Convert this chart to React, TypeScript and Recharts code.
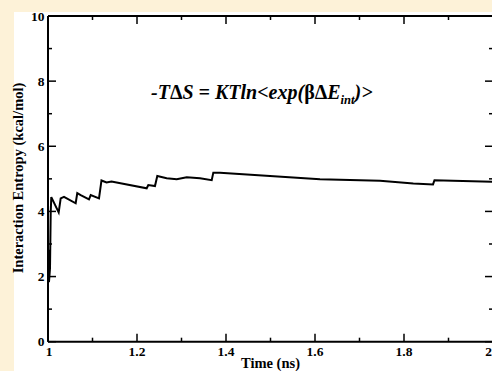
import React from 'react';
import { LineChart, Line, XAxis, YAxis, Customized } from 'recharts';

const timeNs = [1.0007, 1.0022, 1.0045, 1.0061, 1.0074, 1.024, 1.0285, 1.036, 1.0622, 1.0658, 1.0735, 1.0921, 1.096, 1.1146, 1.1202, 1.1315, 1.1427, 1.2218, 1.2254, 1.2404, 1.2456, 1.2667, 1.2892, 1.3117, 1.3416, 1.3679, 1.3715, 1.3865, 1.6112, 1.7461, 1.8209, 1.8652, 1.8685, 1.9101, 2.0];
const entropy = [2.82, 1.83, 2.26, 3.98, 4.44, 3.97, 4.40, 4.45, 4.25, 4.56, 4.50, 4.37, 4.50, 4.40, 4.95, 4.89, 4.92, 4.71, 4.81, 4.78, 5.09, 5.02, 4.99, 5.05, 5.02, 4.96, 5.19, 5.19, 4.99, 4.94, 4.86, 4.83, 4.96, 4.94, 4.91];

const xMajorTicks = [1, 1.2, 1.4, 1.6, 1.8, 2];
const xMinorTicks = [1.1, 1.3, 1.5, 1.7, 1.9];
const xTickLabels = ['1', '1.2', '1.4', '1.6', '1.8', '2'];
const yMajorTicks = [0, 2, 4, 6, 8, 10];
const yMinorTicks = [1, 3, 5, 7, 9];
const yTickLabels = ['0', '2', '4', '6', '8', '10'];

const xLabel = 'Time (ns)';
const yLabel = 'Interaction Entropy (kcal/mol)';

const data = timeNs.map((t, i) => ({ t, v: entropy[i] }));
const allX = [...xMajorTicks, ...xMinorTicks].sort((a, b) => a - b);
const allY = [...yMajorTicks, ...yMinorTicks].sort((a, b) => a - b);

const FONT = "'Liberation Serif', 'Times New Roman', Times, serif";
const TICK_FONT = 13.5;
const MAJOR = 8;
const MINOR = 4;
const PLOT_TOP = 16;
const PLOT_BOTTOM = 341.7;
const PLOT_LEFT = 48;
const PLOT_RIGHT = 493;

const majorIndex = (arr: number[], v: number) => arr.findIndex((m) => Math.abs(m - v) < 1e-6);

const tickTextStyle: React.CSSProperties = { fontFamily: FONT, fontWeight: 'bold', fontSize: TICK_FONT, fill: '#000' };

const BottomTick = (props: any) => {
  const { x, payload } = props;
  const y = PLOT_BOTTOM;
  const idx = majorIndex(xMajorTicks, payload.value);
  const major = idx >= 0;
  const last = idx === xMajorTicks.length - 1;
  return (
    <g>
      <line x1={x} y1={y} x2={x} y2={y - (major ? MAJOR : MINOR)} stroke="#000" strokeWidth={1.5} />
      {major && (
        <text x={last ? 492 : x + (idx === 0 ? 1 : 0)} y={y + 14.5} textAnchor={last ? 'end' : 'middle'} style={tickTextStyle}>
          {xTickLabels[idx]}
        </text>
      )}
    </g>
  );
};

const TopTick = (props: any) => {
  const { x, payload } = props;
  const y = PLOT_TOP;
  const major = majorIndex(xMajorTicks, payload.value) >= 0;
  return <line x1={x} y1={y} x2={x} y2={y + (major ? MAJOR : MINOR)} stroke="#000" strokeWidth={1.5} />;
};

const LeftTick = (props: any) => {
  const { y, payload } = props;
  const x = PLOT_LEFT;
  const idx = majorIndex(yMajorTicks, payload.value);
  const major = idx >= 0;
  return (
    <g>
      <line x1={x} y1={y} x2={x + (major ? MAJOR : MINOR)} y2={y} stroke="#000" strokeWidth={1.5} />
      {major && (
        <text x={x - 3.5} y={y + 4.5} textAnchor="end" style={tickTextStyle}>
          {yTickLabels[idx]}
        </text>
      )}
    </g>
  );
};

const RightTick = (props: any) => {
  const { y, payload } = props;
  const x = PLOT_RIGHT;
  const major = majorIndex(yMajorTicks, payload.value) >= 0;
  return <line x1={x} y1={y} x2={x - (major ? MAJOR : MINOR)} y2={y} stroke="#000" strokeWidth={1.5} />;
};

const Labels = () => (
  <g>
    <text x={270.5} y={367.5} textAnchor="middle" fontFamily={FONT} fontWeight="bold" fontSize={14.5} fill="#000">
      {xLabel}
    </text>
    <text transform="translate(23,178) rotate(-90)" textAnchor="middle" fontFamily={FONT} fontWeight="bold" fontSize={14.5} fill="#000">
      {yLabel}
    </text>
    <text x={151} y={99} fontFamily={FONT} fontWeight="bold" fontStyle="italic" fontSize={20} fill="#000">
      <tspan>-T</tspan>
      <tspan fontStyle="normal">Δ</tspan>
      <tspan>S = KTln&lt;exp(</tspan>
      <tspan fontStyle="normal">βΔ</tspan>
      <tspan>E</tspan>
      <tspan fontSize={12.5} dy={5}>int</tspan>
      <tspan dy={-5}>)&gt;</tspan>
    </text>
  </g>
);

const axisLine = { stroke: '#000', strokeWidth: 2 };

export default function App() {
  return (
    <div style={{ position: 'absolute', left: 0, top: 0, width: 492, height: 371, background: '#FDF2D8', overflow: 'hidden' }}>
      <div style={{ position: 'absolute', left: 14, top: 12, width: 478, height: 359, background: '#FFFFFF' }} />
      <div style={{ position: 'absolute', left: 0, top: 0 }}>
        <LineChart width={492} height={371} data={data} margin={{ top: 0, right: -2, bottom: 0, left: 0 }}>
          <XAxis xAxisId="b" dataKey="t" type="number" domain={[1, 2]} ticks={allX} interval={0} height={371 - PLOT_BOTTOM} tickSize={0} tickMargin={0} tickLine={false} axisLine={axisLine} tick={BottomTick} allowDataOverflow />
          <XAxis xAxisId="t" orientation="top" dataKey="t" type="number" domain={[1, 2]} ticks={allX} interval={0} height={PLOT_TOP} tickSize={0} tickMargin={0} tickLine={false} axisLine={axisLine} tick={TopTick} allowDataOverflow />
          <YAxis yAxisId="l" type="number" domain={[0, 10]} ticks={allY} interval={0} width={PLOT_LEFT} tickSize={0} tickMargin={0} tickLine={false} axisLine={axisLine} tick={LeftTick} allowDataOverflow />
          <YAxis yAxisId="r" orientation="right" type="number" domain={[0, 10]} ticks={allY} interval={0} width={1} tickSize={0} tickMargin={0} tickLine={false} axisLine={axisLine} tick={RightTick} allowDataOverflow />
          <Line xAxisId="t" yAxisId="r" dataKey="v" stroke="none" dot={false} isAnimationActive={false} legendType="none" />
          <Line xAxisId="b" yAxisId="l" type="linear" dataKey="v" stroke="#000" strokeWidth={2} dot={false} isAnimationActive={false} />
          <Customized component={Labels} />
        </LineChart>
      </div>
    </div>
  );
}
